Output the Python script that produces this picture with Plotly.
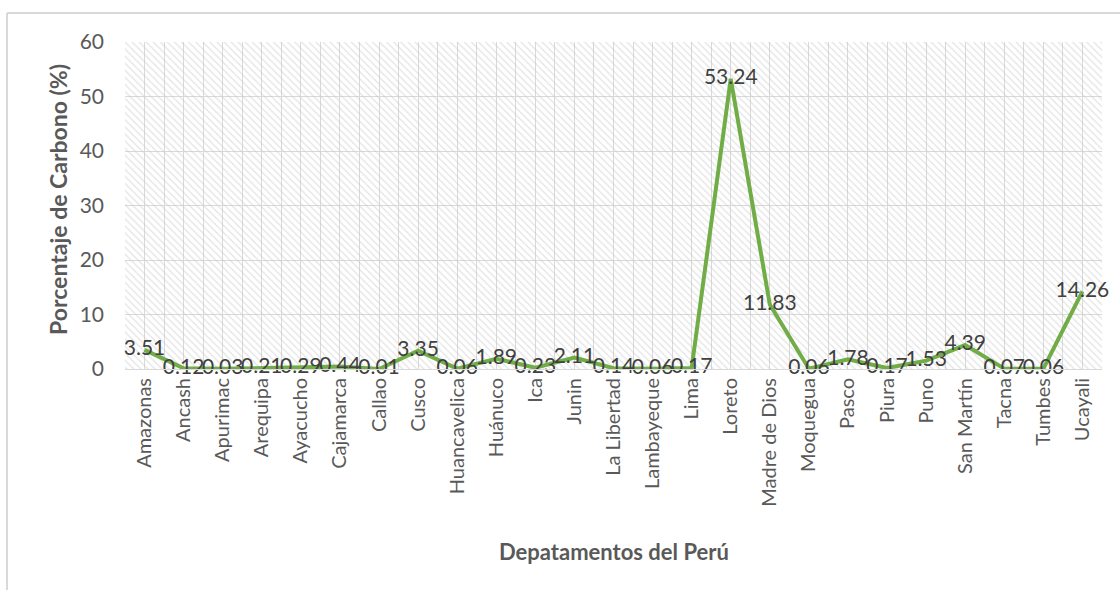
import plotly.graph_objects as go

departamentos = ["Amazonas", "Ancash", "Apurimac", "Arequipa", "Ayacucho", "Cajamarca",
                 "Callao", "Cusco", "Huancavelica", "Huánuco", "Ica", "Junin",
                 "La Libertad", "Lambayeque", "Lima", "Loreto", "Madre de Dios",
                 "Moquegua", "Pasco", "Piura", "Puno", "San Martín", "Tacna",
                 "Tumbes", "Ucayali"]
carbono = [3.51, 0.12, 0.03, 0.21, 0.29, 0.44, 0.01, 3.35, 0.06, 1.89, 0.23, 2.11,
           0.14, 0.06, 0.17, 53.24, 11.83, 0.06, 1.78, 0.17, 1.53, 4.39, 0.07,
           0.06, 14.26]
y_ticks = [0, 10, 20, 30, 40, 50, 60]

FONT = "Lato"
TXT = "#595959"
GRID = "#d9d9d9"

n = len(departamentos)
idx = list(range(n))

fig = go.Figure()

# hatched plot-area background
fig.add_trace(go.Bar(
    x=[(n - 1) / 2], y=[max(y_ticks)], width=[n], base=[0],
    marker=dict(color="rgba(0,0,0,0)", line=dict(width=0),
                pattern=dict(shape="\\", fgcolor="#c8c8c8", bgcolor="rgba(0,0,0,0)",
                             size=5, solidity=0.25)),
    hoverinfo="skip", showlegend=False,
))

fig.add_trace(go.Scatter(
    x=idx, y=carbono, mode="lines+text",
    line=dict(color="#70AD47", width=4),
    text=[f"{v:.2f}" for v in carbono], textposition="middle center",
    textfont=dict(family=FONT, size=21, color="#404040"),
    showlegend=False, cliponaxis=False,
))

fig.update_layout(
    width=1120, height=590,
    margin=dict(l=125, r=18, t=42, b=221, autoexpand=False),
    paper_bgcolor="white", plot_bgcolor="white",
    font=dict(family=FONT, color=TXT),
    bargap=0,
    xaxis=dict(
        range=[-0.5, n - 0.5], tickmode="array", tickvals=idx, ticktext=departamentos,
        tickangle=-90, tickfont=dict(size=20, color=TXT),
        showgrid=True, gridcolor=GRID, gridwidth=1,
        minor=dict(tickmode="array", tickvals=[i - 0.5 for i in range(n + 1)],
                   showgrid=True, gridcolor=GRID, gridwidth=1, ticks=""),
        showline=True, linecolor=GRID, linewidth=1, ticks="", zeroline=False,
        automargin=False,
    ),
    yaxis=dict(
        range=[0, 60], tickvals=y_ticks, tickfont=dict(size=21, color=TXT),
        showgrid=True, gridcolor=GRID, gridwidth=1, zeroline=False,
        showline=False, ticks="", ticklabelstandoff=20, automargin=False,
    ),
    annotations=[
        dict(text="<b>Depatamentos del Perú</b>", xref="paper", yref="paper",
             x=0.5, y=-0.5566, xanchor="center", yanchor="middle", showarrow=False,
             font=dict(size=22, color=TXT, family=FONT)),
        dict(text="<b>Porcentaje de Carbono (%)</b>", xref="paper", yref="paper",
             x=-0.0686, y=0.52, xanchor="center", yanchor="middle", showarrow=False,
             textangle=-90, font=dict(size=23, color=TXT, family=FONT)),
    ],
    shapes=[
        dict(type="line", xref="paper", yref="paper", x0=-0.1208, x1=1.03,
             y0=1.0887, y1=1.0887, line=dict(color="#d9d9d9", width=2)),
        dict(type="line", xref="paper", yref="paper", x0=-0.1208, x1=-0.1208,
             y0=1.0887, y1=-0.75, line=dict(color="#d9d9d9", width=2)),
    ],
)

fig.write_html("out.html", config={"displayModeBar": False},
               post_script="document.body.style.margin='0';document.body.style.overflow='hidden';")
